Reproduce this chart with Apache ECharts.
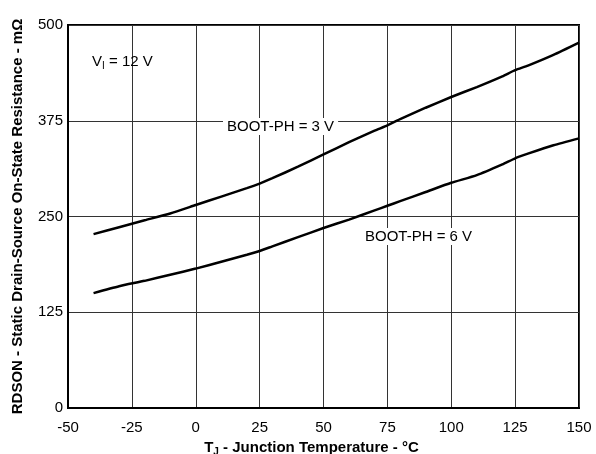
<!DOCTYPE html>
<html>
<head>
<meta charset="utf-8">
<script src="https://cdn.jsdelivr.net/npm/echarts@6/dist/echarts.min.js"></script>
<style>html,body{margin:0;padding:0;background:#fff}#c{width:596px;height:454px}</style>
</head>
<body>
<div id="c"></div>
<script>
const temps = [-40,-30,-20,-10,0,10,20,25,30,40,50,60,70,75,80,90,100,110,120,125,130,140,150];
const boot3V = [227,236,245,254,265,276,287,293,300,315,331,347,362,369,377,392,406,419,433,441,447,461,477];
const boot6V = [150,159,166,174,182,191,200,205,211,223,235,246,258,264,270,282,294,304,318,326,332,343,352];
const xTicks = [-50,-25,0,25,50,75,100,125,150];
const yTicks = [0,125,250,375,500];

const chart = echarts.init(document.getElementById('c'));
const font = 'Liberation Sans, Arial, sans-serif';
chart.setOption({
  animation: false,
  grid: {left: 68, right: 17, top: 25, bottom: 46, show: true, borderColor: '#000', borderWidth: 2,
         containLabel: false, outerBoundsMode: 'none'},
  xAxis: {
    type: 'value', min: xTicks[0], max: xTicks[xTicks.length-1], interval: 25,
    axisLine: {onZero: false, lineStyle: {color: '#000', width: 2}},
    axisTick: {show: false},
    splitLine: {lineStyle: {color: '#333', width: 1}},
    axisLabel: {color: '#000', fontSize: 15, fontFamily: font, margin: 12},
    name: '{b|T}{s|J}{b| - Junction Temperature - °C}',
    nameLocation: 'middle', nameGap: 27,
    nameTextStyle: {
      padding: [0, 24, 0, 0],
      rich: {
        b: {fontSize: 15, fontWeight: 'bold', fontFamily: font, color: '#000'},
        s: {fontSize: 10, fontWeight: 'bold', fontFamily: font, color: '#000', verticalAlign: 'bottom', padding: [9,0,0,0]}
      }
    }
  },
  yAxis: {
    type: 'value', min: yTicks[0], max: yTicks[yTicks.length-1], interval: 125,
    axisLine: {onZero: false, lineStyle: {color: '#000', width: 2}},
    axisTick: {show: false},
    splitLine: {lineStyle: {color: '#333', width: 1}},
    axisLabel: {color: '#000', fontSize: 15, fontFamily: font, margin: 5},
    name: 'RDSON - Static Drain-Source On-State Resistance - mΩ',
    nameLocation: 'middle', nameGap: 43,
    nameTextStyle: {fontSize: 15, fontWeight: 'bold', fontFamily: font, color: '#000'}
  },
  series: [
    {type: 'line', data: temps.map((t,i)=>[t,boot3V[i]]), showSymbol: false, smooth: 0.2,
     lineStyle: {color: '#000', width: 2.5}},
    {type: 'line', data: temps.map((t,i)=>[t,boot6V[i]]), showSymbol: false, smooth: 0.2,
     lineStyle: {color: '#000', width: 2.5}}
  ],
  graphic: [
    {type: 'text', z: 100, left: 92, top: 54, style: {
      text: '{a|V}{s|I}{a| = 12 V}',
      rich: {a: {fontSize: 15, fontFamily: font, fill: '#000'},
             s: {fontSize: 10, fontFamily: font, fill: '#000', padding: [9,0,0,0]}}
    }},
    {type: 'text', z: 100, left: 223, top: 118, style: {
      text: 'BOOT-PH = 3 V', fontSize: 15, fontFamily: font, fill: '#000',
      backgroundColor: '#fff', padding: [1,4]
    }},
    {type: 'text', z: 100, left: 361, top: 228, style: {
      text: 'BOOT-PH = 6 V', fontSize: 15, fontFamily: font, fill: '#000',
      backgroundColor: '#fff', padding: [1,4]
    }}
  ]
});
</script>
</body>
</html>
